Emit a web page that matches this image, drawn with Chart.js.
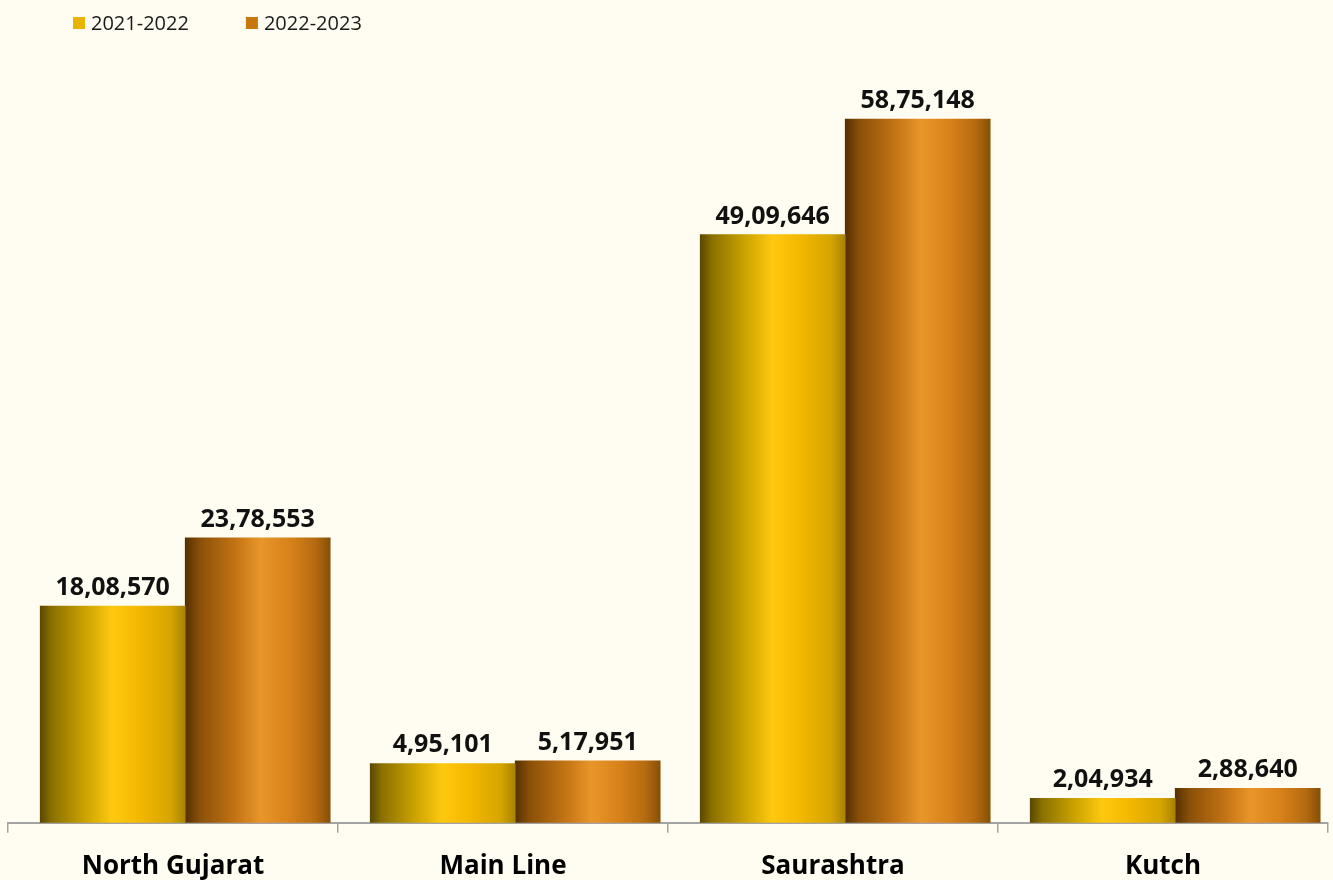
<!DOCTYPE html>
<html lang="en">
<head>
    <meta charset="UTF-8">
    <title>Region-wise comparison</title>
    <script src="https://cdn.jsdelivr.net/npm/chart.js"></script>
    <style>
        html, body { margin: 0; padding: 0; background: #fffcf1; overflow: hidden; }
        #wrap { width: 1333px; height: 900px; position: relative; }
    </style>
</head>
<body>
    <div id="wrap"><canvas id="chart"></canvas></div>

    <script>
        // Data
        const categories = ['North Gujarat', 'Main Line', 'Saurashtra', 'Kutch'];
        const seriesNames = ['2021-2022', '2022-2023'];
        const values2122 = [1808570, 495101, 4909646, 204934];
        const values2223 = [2378553, 517951, 5875148, 288640];

        // Styles
        const legendColors = ['#e8b400', '#c8780a'];
        const gradientStops = [
            [[0, '#5a4800'], [0.08, '#8a7000'], [0.3, '#c9a100'], [0.5, '#ffc910'], [0.68, '#f4b800'], [0.9, '#d6a500'], [1, '#a88300']],
            [[0, '#553000'], [0.1, '#8a5008'], [0.35, '#c47414'], [0.52, '#e8962a'], [0.72, '#d8821a'], [0.9, '#b56a10'], [1, '#855006']]
        ];
        const barShift = 0.037; // bars sit a little right of the category ticks

        // Indian digit grouping, e.g. 18,08,570
        function formatIndian(n) {
            const s = String(n);
            if (s.length <= 3) return s;
            const last3 = s.slice(-3);
            const rest = s.slice(0, -3).replace(/\B(?=(\d{2})+(?!\d))/g, ',');
            return rest + ',' + last3;
        }

        const gradientPlugin = {
            id: 'barGradient',
            beforeDatasetsDraw(chart) {
                const ctx = chart.ctx;
                chart.data.datasets.forEach((ds, di) => {
                    chart.getDatasetMeta(di).data.forEach(bar => {
                        const { x, width } = bar.getProps(['x', 'width'], true);
                        const g = ctx.createLinearGradient(x - width / 2, 0, x + width / 2, 0);
                        gradientStops[di].forEach(s => g.addColorStop(s[0], s[1]));
                        bar.options = Object.assign({}, bar.options, { backgroundColor: g });
                    });
                });
            }
        };

        const valueLabelPlugin = {
            id: 'valueLabels',
            afterDatasetsDraw(chart) {
                const ctx = chart.ctx;
                ctx.save();
                ctx.font = 'bold 25px "Open Sans"';
                ctx.fillStyle = '#111';
                ctx.textAlign = 'center';
                ctx.textBaseline = 'alphabetic';
                chart.data.datasets.forEach((ds, di) => {
                    chart.getDatasetMeta(di).data.forEach((bar, i) => {
                        const v = ds.data[i].y;
                        ctx.fillText(formatIndian(v), bar.x, bar.y - 11);
                    });
                });
                ctx.restore();
            }
        };

        const legendPlugin = {
            id: 'topLegend',
            afterDraw(chart) {
                const ctx = chart.ctx;
                ctx.save();
                ctx.font = '20px "Open Sans"';
                ctx.textBaseline = 'middle';
                let x = 73;
                chart.data.datasets.forEach((ds, di) => {
                    ctx.fillStyle = legendColors[di];
                    ctx.fillRect(x, 17, 12, 12);
                    ctx.fillStyle = '#1a1a1a';
                    ctx.fillText(ds.label, x + 18, 24);
                    x += 18 + ctx.measureText(ds.label).width + 57;
                });
                ctx.restore();
            }
        };

        function toPoints(arr) {
            return arr.map((v, i) => ({ x: i, y: v }));
        }

        new Chart(document.getElementById('chart'), {
            type: 'bar',
            data: {
                datasets: [
                    { label: seriesNames[0], data: toPoints(values2122), xAxisID: 'x', backgroundColor: legendColors[0] },
                    { label: seriesNames[1], data: toPoints(values2223), xAxisID: 'x', backgroundColor: legendColors[1] }
                ]
            },
            options: {
                responsive: true,
                maintainAspectRatio: false,
                animation: false,
                barThickness: 145,
                layout: { padding: { top: 104, left: 8, right: 5, bottom: 0 } },
                plugins: {
                    legend: { display: false },
                    tooltip: { enabled: false }
                },
                scales: {
                    x: {
                        type: 'linear',
                        display: false,
                        offset: false,
                        min: -0.5 - barShift,
                        max: categories.length - 0.5 - barShift
                    },
                    xl: {
                        type: 'category',
                        labels: categories,
                        position: 'bottom',
                        offset: true,
                        grid: { offset: true, drawOnChartArea: false, tickLength: 10, color: '#a3a3a3', lineWidth: 1.5 },
                        border: { color: '#a3a3a3', width: 2 },
                        ticks: {
                            padding: 18,
                            color: '#000',
                            font: { family: 'Open Sans', weight: 'bold', size: 26 }
                        }
                    },
                    y: {
                        display: false,
                        min: 0,
                        max: 6000000
                    }
                }
            },
            plugins: [gradientPlugin, valueLabelPlugin, legendPlugin]
        });
    </script>
</body>
</html>
